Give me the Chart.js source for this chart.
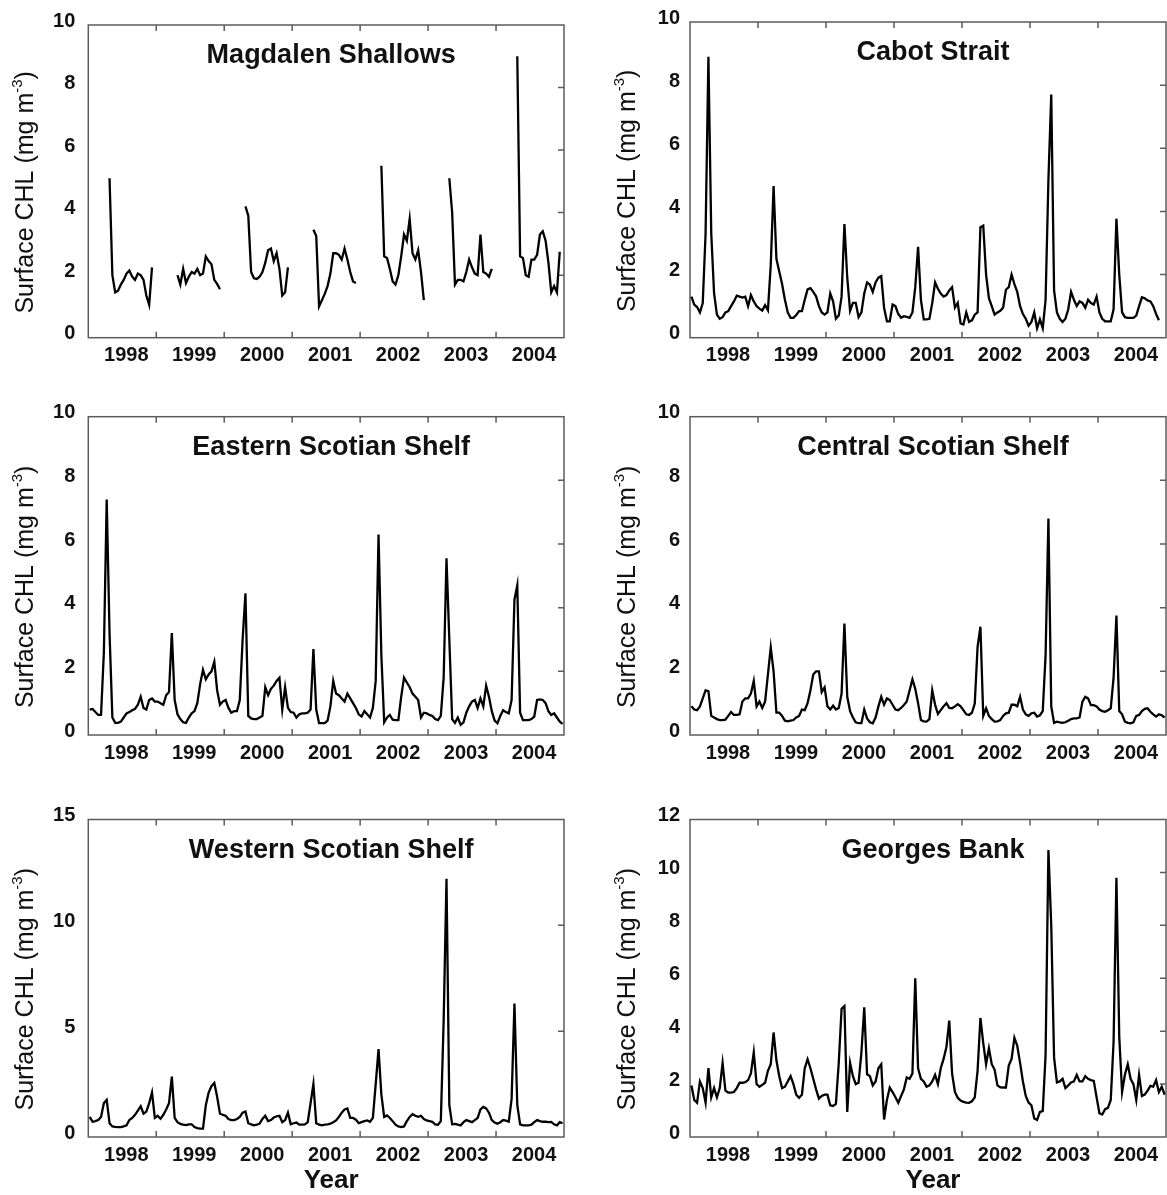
<!DOCTYPE html>
<html>
<head>
<meta charset="utf-8">
<title>Surface CHL 1998-2004</title>
<script src="https://cdn.jsdelivr.net/npm/chart.js@4.4.1/dist/chart.umd.min.js"></script>
<style>
  html, body { margin: 0; padding: 0; background: #fff; }
  #figure { position: relative; width: 1167px; height: 1195px; background: #fff; }
  #figure canvas { position: absolute; left: 0; top: 0; }
</style>
</head>
<body>
<div id="figure"></div>
<script>
const FONT = '"Liberation Sans", Arial, Helvetica, sans-serif';
const yearLabels = ['1998', '1999', '2000', '2001', '2002', '2003', '2004'];
const samplesPerYear = 24;

// half-month sampling, one value per slot, years in order
const sampleTimes = [];
yearLabels.forEach((yr) => {
  for (let i = 0; i < samplesPerYear; i++) {
    sampleTimes.push(Number(yr) + (i + 0.5) / samplesPerYear);
  }
});

const _ = null;  // no data (ice cover / winter)

const magdalenShallows = [
  _, _, _, _, _, _, _, 5.1, 2.0, 1.45, 1.5, 1.7, 1.85, 2.05, 2.15, 1.95, 1.85, 2.05, 2.0, 1.85, 1.35, 1.05, 2.25, _,
  _, _, _, _, _, _, _, 2.0, 1.7, 2.2, 1.75, 1.95, 2.1, 2.05, 2.2, 2.0, 2.05, 2.6, 2.45, 2.35, 1.85, 1.72, 1.55, _,
  _, _, _, _, _, _, _, 4.2, 3.9, 2.1, 1.9, 1.88, 1.95, 2.1, 2.4, 2.8, 2.85, 2.45, 2.7, 2.2, 1.35, 1.45, 2.25, _,
  _, _, _, _, _, _, _, 3.45, 3.25, 1.0, 1.2, 1.4, 1.65, 2.05, 2.7, 2.7, 2.65, 2.5, 2.85, 2.5, 2.1, 1.8, 1.75, _,
  _, _, _, _, _, _, _, 5.5, 2.6, 2.55, 2.2, 1.8, 1.7, 2.0, 2.6, 3.3, 3.1, 3.8, 2.7, 2.5, 2.8, 2.1, 1.2, _,
  _, _, _, _, _, _, _, 5.1, 4.0, 1.7, 1.85, 1.85, 1.8, 2.1, 2.5, 2.25, 2.05, 2.0, 3.3, 2.1, 2.05, 1.95, 2.2, _,
  _, _, _, _, _, _, _, 9.0, 2.6, 2.55, 2.0, 1.95, 2.5, 2.5, 2.65, 3.3, 3.4, 3.1, 2.4, 1.45, 1.65, 1.45, 2.75, _
];

const cabotStrait = [
  1.3, 1.05, 0.97, 0.8, 1.1, 3.3, 8.9, 3.3, 1.4, 0.73, 0.6, 0.65, 0.8, 0.84, 1.0, 1.15, 1.33, 1.3, 1.27, 1.3, 1.0, 1.35, 1.15, 1.0,
  0.92, 0.86, 1.03, 0.87, 2.3, 4.8, 2.5, 2.1, 1.7, 1.2, 0.8, 0.63, 0.63, 0.72, 0.84, 0.84, 1.2, 1.53, 1.57, 1.45, 1.31, 1.0, 0.8, 0.73,
  0.8, 1.4, 1.15, 0.6, 0.7, 1.3, 3.6, 1.9, 0.85, 1.1, 1.1, 0.65, 0.8, 1.4, 1.75, 1.68, 1.45, 1.75, 1.9, 1.95, 0.95, 0.52, 0.52, 1.05,
  1.0, 0.75, 0.63, 0.68, 0.66, 0.63, 0.8, 1.6, 2.88, 1.2, 0.58, 0.58, 0.6, 1.1, 1.75, 1.55, 1.4, 1.3, 1.35, 1.5, 1.6, 0.95, 1.1, 0.45,
  0.42, 0.8, 0.5, 0.55, 0.73, 0.8, 3.5, 3.55, 2.0, 1.25, 1.0, 0.73, 0.8, 0.85, 0.95, 1.52, 1.6, 2.0, 1.7, 1.45, 1.0, 0.75, 0.6, 0.38,
  0.5, 0.8, 0.3, 0.58, 0.3, 1.2, 5.0, 7.7, 1.5, 0.8, 0.6, 0.5, 0.6, 0.9, 1.45, 1.2, 1.0, 1.15, 1.1, 0.95, 1.2, 1.1, 1.05, 1.3,
  0.8, 0.6, 0.52, 0.52, 0.52, 0.9, 3.77, 2.0, 0.8, 0.65, 0.63, 0.63, 0.63, 0.7, 1.0, 1.28, 1.25, 1.18, 1.15, 1.0, 0.75, 0.55, _, _
];

const easternScotianShelf = [
  0.8, 0.82, 0.72, 0.63, 0.63, 2.6, 7.4, 3.2, 0.55, 0.38, 0.38, 0.42, 0.55, 0.68, 0.72, 0.78, 0.82, 0.95, 1.2, 0.85, 0.8, 1.1, 1.15, 1.05,
  1.05, 1.0, 0.95, 1.25, 1.35, 3.2, 1.1, 0.65, 0.5, 0.4, 0.38, 0.55, 0.68, 0.75, 1.0, 1.6, 2.05, 1.75, 1.9, 2.0, 2.3, 1.4, 0.95, 1.05,
  1.1, 0.85, 0.7, 0.75, 0.75, 1.1, 3.0, 4.45, 0.6, 0.52, 0.5, 0.5, 0.55, 0.6, 1.5, 1.25, 1.45, 1.55, 1.7, 1.8, 0.8, 1.5, 0.85, 0.72,
  0.7, 0.55, 0.65, 0.68, 0.68, 0.7, 0.8, 2.7, 0.8, 0.37, 0.37, 0.37, 0.45, 0.9, 1.7, 1.3, 1.25, 1.15, 1.05, 1.3, 1.15, 1.0, 0.85, 0.65,
  0.58, 0.75, 0.65, 0.55, 0.85, 1.7, 6.3, 2.5, 0.4, 0.55, 0.63, 0.48, 0.47, 0.47, 1.2, 1.8, 1.65, 1.5, 1.3, 1.2, 1.1, 0.55, 0.7, 0.68,
  0.63, 0.6, 0.5, 0.47, 0.6, 1.8, 5.55, 3.0, 0.5, 0.38, 0.55, 0.32, 0.4, 0.7, 0.9, 1.05, 1.1, 0.85, 1.15, 0.9, 1.55, 1.2, 0.75, 0.45,
  0.37, 0.6, 0.78, 0.72, 0.68, 1.1, 4.25, 4.7, 0.7, 0.47, 0.47, 0.47, 0.5, 0.58, 1.1, 1.12, 1.1, 1.0, 0.75, 0.63, 0.68, 0.55, 0.42, 0.35
];

const centralScotianShelf = [
  0.9, 0.8, 0.78, 0.9, 1.15, 1.4, 1.38, 0.6, 0.55, 0.5, 0.47, 0.47, 0.48, 0.6, 0.72, 0.63, 0.63, 0.65, 1.05, 1.15, 1.15, 1.3, 1.7, 0.9,
  1.05, 0.85, 1.05, 1.9, 2.75, 2.0, 0.7, 0.7, 0.6, 0.45, 0.43, 0.45, 0.47, 0.55, 0.6, 0.8, 0.78, 1.0, 1.4, 1.9, 2.0, 2.0, 1.35, 1.5,
  0.9, 0.8, 0.92, 0.8, 0.85, 1.3, 3.5, 1.2, 0.75, 0.55, 0.4, 0.37, 0.37, 0.8, 0.52, 0.4, 0.37, 0.55, 0.9, 1.2, 0.95, 1.15, 1.1, 0.95,
  0.8, 0.78, 0.85, 0.94, 1.05, 1.4, 1.75, 1.45, 1.0, 0.47, 0.43, 0.42, 0.5, 1.4, 0.95, 0.66, 0.78, 0.9, 1.0, 0.85, 0.84, 0.9, 0.97, 0.9,
  0.78, 0.65, 0.63, 0.7, 0.99, 2.77, 3.4, 0.6, 0.84, 0.6, 0.5, 0.42, 0.43, 0.47, 0.6, 0.68, 0.7, 0.95, 0.95, 0.9, 1.2, 0.8, 0.65, 0.6,
  0.68, 0.7, 0.58, 0.62, 0.75, 2.5, 6.8, 0.9, 0.38, 0.42, 0.4, 0.38, 0.4, 0.45, 0.5, 0.52, 0.52, 0.55, 1.05, 1.2, 1.15, 0.94, 0.94, 0.9,
  0.8, 0.75, 0.73, 0.78, 0.84, 1.8, 3.75, 0.75, 0.65, 0.42, 0.38, 0.37, 0.4, 0.6, 0.63, 0.75, 0.82, 0.84, 0.73, 0.65, 0.58, 0.65, 0.62, 0.55
];

const westernScotianShelf = [
  0.95, 0.72, 0.75, 0.8, 0.95, 1.6, 1.75, 0.65, 0.5, 0.48, 0.47, 0.47, 0.5, 0.55, 0.8, 0.9, 1.05, 1.25, 1.45, 1.1, 1.2, 1.6, 2.1, 0.9,
  1.0, 0.86, 1.05, 1.3, 1.6, 2.85, 0.9, 0.7, 0.62, 0.58, 0.56, 0.6, 0.6, 0.47, 0.42, 0.4, 0.4, 1.5, 2.1, 2.4, 2.55, 1.9, 1.1, 1.05,
  1.0, 0.85, 0.8, 0.8, 0.85, 0.95, 1.15, 1.2, 0.65, 0.6, 0.55, 0.58, 0.63, 0.85, 1.0, 0.75, 0.8, 0.92, 0.98, 1.0, 0.7, 0.8, 1.15, 0.6,
  0.65, 0.68, 0.58, 0.58, 0.6, 0.7, 1.6, 2.5, 0.65, 0.58, 0.55, 0.58, 0.6, 0.63, 0.7, 0.78, 0.95, 1.15, 1.3, 1.35, 0.9, 0.9, 0.82, 0.65,
  0.7, 0.75, 0.78, 0.72, 0.9, 2.5, 4.15, 2.0, 0.95, 1.02, 0.9, 0.75, 0.58, 0.5, 0.47, 0.5, 0.75, 0.95, 1.08, 1.0, 0.95, 1.0, 0.85, 0.78,
  0.75, 0.72, 0.6, 0.58, 0.75, 5.5, 12.2, 1.5, 0.6, 0.62, 0.58, 0.55, 0.7, 0.8, 0.75, 0.7, 0.8, 0.9, 1.3, 1.42, 1.35, 1.15, 0.8, 0.68,
  0.63, 0.7, 0.8, 0.77, 0.72, 1.8, 6.3, 1.5, 0.6, 0.55, 0.55, 0.55, 0.58, 0.7, 0.8, 0.75, 0.72, 0.72, 0.7, 0.71, 0.6, 0.55, 0.7, 0.65
];

const georgesBank = [
  1.95, 1.4, 1.29, 2.1, 1.85, 1.3, 2.6, 1.5, 1.85, 1.5, 1.85, 2.8, 1.75, 1.68, 1.68, 1.7, 1.85, 2.05, 2.05, 2.07, 2.15, 2.4, 3.2, 2.0,
  1.9, 1.97, 2.05, 2.5, 2.75, 3.95, 2.9, 2.3, 1.85, 1.9, 2.1, 2.3, 2.0, 1.6, 1.48, 1.6, 2.6, 2.94, 2.6, 2.2, 1.8, 1.45, 1.55, 1.6,
  1.6, 1.2, 1.17, 1.25, 2.8, 4.85, 4.95, 0.95, 2.8, 2.3, 2.0, 2.05, 3.2, 4.9, 2.37, 2.3, 1.95, 2.1, 2.6, 2.75, 0.66, 1.4, 1.87, 1.7,
  1.5, 1.29, 1.55, 1.8, 2.25, 2.2, 2.4, 6.0, 2.6, 2.2, 2.1, 1.9, 1.95, 2.1, 2.35, 2.0, 2.6, 2.95, 3.4, 4.4, 2.4, 1.7, 1.48, 1.38,
  1.33, 1.3, 1.29, 1.35, 1.5, 2.5, 4.5, 3.55, 2.75, 3.35, 2.75, 2.55, 1.95, 1.88, 1.87, 1.87, 2.7, 2.95, 3.75, 3.45, 2.8, 2.1, 1.55, 1.3,
  1.2, 0.7, 0.65, 0.95, 0.98, 3.1, 10.85, 8.0, 3.0, 2.06, 2.1, 2.2, 1.85, 1.95, 2.06, 2.1, 2.35, 2.1, 2.1, 2.3, 2.2, 2.15, 2.12, 1.5,
  0.9, 0.85, 1.05, 1.1, 1.4, 3.6, 9.8, 3.8, 1.7, 2.35, 2.75, 2.2, 2.0, 1.4, 2.35, 1.55, 1.6, 1.75, 1.93, 1.9, 2.15, 1.7, 1.9, 1.6
];

const panels = [
  { name: 'Magdalen Shallows',     values: magdalenShallows,    yMax: 10, yStep: 2, col: 0, row: 0 },
  { name: 'Cabot Strait',          values: cabotStrait,         yMax: 10, yStep: 2, col: 1, row: 0 },
  { name: 'Eastern Scotian Shelf', values: easternScotianShelf, yMax: 10, yStep: 2, col: 0, row: 1 },
  { name: 'Central Scotian Shelf', values: centralScotianShelf, yMax: 10, yStep: 2, col: 1, row: 1 },
  { name: 'Western Scotian Shelf', values: westernScotianShelf, yMax: 15, yStep: 5, col: 0, row: 2 },
  { name: 'Georges Bank',          values: georgesBank,         yMax: 12, yStep: 2, col: 1, row: 2 }
];

// plot-frame edges in page pixels
const W = 1167, H = 1195;
const columnEdges = [[88.3, 564], [690, 1166]];
const rowEdges = [[20.7, 337.7], [416.7, 735], [819.5, 1137]];
const Y_AXIS_W = 40, X_AXIS_H = 40;

function drawUnitsTitle(ctx, cx, cy) {
  const main = 'Surface CHL (mg m';
  const sup = '-3';
  const tail = ')';
  ctx.save();
  ctx.fillStyle = '#111';
  ctx.font = '25px ' + FONT;
  const wMain = ctx.measureText(main).width;
  const wTail = ctx.measureText(tail).width;
  ctx.font = '15px ' + FONT;
  const wSup = ctx.measureText(sup).width;
  const total = wMain + wSup + wTail;
  ctx.translate(cx, cy);
  ctx.rotate(-Math.PI / 2);
  ctx.textAlign = 'left';
  ctx.textBaseline = 'alphabetic';
  let x0 = -total / 2;
  ctx.font = '25px ' + FONT;
  ctx.fillText(main, x0, 0);
  ctx.font = '15px ' + FONT;
  ctx.fillText(sup, x0 + wMain, -11);
  ctx.font = '25px ' + FONT;
  ctx.fillText(tail, x0 + wMain + wSup, 0);
  ctx.restore();
}

// frame, inward tick marks, panel name, axis titles
const panelDecor = {
  id: 'panelDecor',
  beforeDatasetsDraw(chart, args, opts) {
    const { ctx, chartArea: a } = chart;
    const x = chart.scales.x, y = chart.scales.y;
    ctx.save();
    ctx.strokeStyle = '#5c5c5c';
    ctx.lineWidth = 1.5;
    ctx.strokeRect(a.left, a.top, a.right - a.left, a.bottom - a.top);
    ctx.beginPath();
    yearLabels.slice(1).forEach((yr) => {
      const px = x.getPixelForValue(Number(yr));
      ctx.moveTo(px, a.top);
      ctx.lineTo(px, a.top + 6);
      ctx.moveTo(px, a.bottom);
      ctx.lineTo(px, a.bottom - 6);
    });
    y.ticks.forEach((t) => {
      if (t.value <= y.min || t.value >= y.max) return;
      const py = y.getPixelForValue(t.value);
      ctx.moveTo(a.right, py);
      ctx.lineTo(a.right - 6, py);
    });
    ctx.stroke();
    ctx.restore();
  },
  afterDraw(chart, args, opts) {
    const { ctx, chartArea: a } = chart;
    const cx = (a.left + a.right) / 2;
    ctx.save();
    ctx.fillStyle = '#111';
    ctx.textAlign = 'center';
    ctx.textBaseline = 'alphabetic';
    ctx.font = 'bold 27px ' + FONT;
    ctx.fillText(opts.name, cx + 5, a.top + 38);
    if (opts.showYear) {
      ctx.font = 'bold 26px ' + FONT;
      ctx.fillText('Year', cx + 5, a.bottom + 51);
    }
    ctx.restore();
    drawUnitsTitle(ctx, a.left - 55.5, (a.top + a.bottom) / 2 + 11);
  }
};

const figure = document.getElementById('figure');

panels.forEach((p) => {
  const canvas = document.createElement('canvas');
  canvas.width = W;
  canvas.height = H;
  figure.appendChild(canvas);

  const [left, right] = columnEdges[p.col];
  const [top, bottom] = rowEdges[p.row];
  const points = sampleTimes.map((t, i) => ({ x: t, y: p.values[i] }));
  const tickFont = { family: FONT, size: 20, weight: 'bold' };

  new Chart(canvas.getContext('2d'), {
    type: 'line',
    data: {
      datasets: [{
        data: points,
        borderColor: '#000',
        borderWidth: 2.3,
        pointRadius: 0,
        tension: 0,
        spanGaps: false
      }]
    },
    options: {
      responsive: false,
      animation: false,
      devicePixelRatio: 1,
      layout: {
        padding: {
          left: left - Y_AXIS_W,
          right: W - right,
          top: top,
          bottom: H - bottom - X_AXIS_H
        }
      },
      plugins: {
        legend: { display: false },
        tooltip: { enabled: false },
        title: { display: false },
        panelDecor: { name: p.name, showYear: p.row === 2 }
      },
      scales: {
        x: {
          type: 'linear',
          min: 1998,
          max: 2005,
          bounds: 'data',
          grid: { display: false, drawTicks: false },
          border: { display: false },
          afterBuildTicks: (s) => {
            s.ticks = yearLabels.map((yr) => ({ value: Number(yr) + 0.5 }));
          },
          afterFit: (s) => { s.height = X_AXIS_H; },
          ticks: {
            callback: (v, i) => yearLabels[i],
            font: tickFont,
            color: '#111',
            padding: 6,
            labelOffset: 4,
            maxRotation: 0,
            autoSkip: false
          }
        },
        y: {
          min: 0,
          max: p.yMax,
          grid: { display: false, drawTicks: false },
          border: { display: false },
          afterFit: (s) => { s.width = Y_AXIS_W; },
          ticks: {
            stepSize: p.yStep,
            font: tickFont,
            color: '#111',
            padding: p.col ? 10 : 13,
            labelOffset: -4
          }
        }
      }
    },
    plugins: [panelDecor]
  });
});
</script>
</body>
</html>
